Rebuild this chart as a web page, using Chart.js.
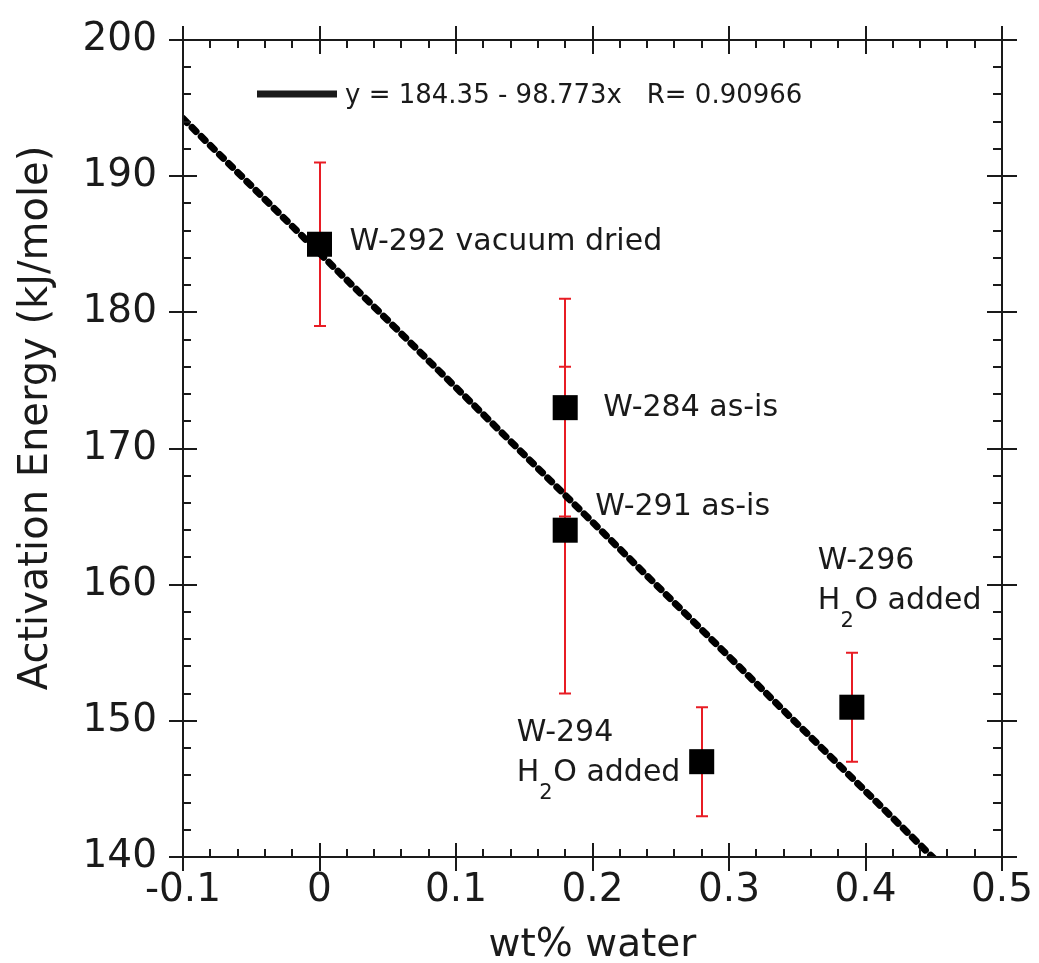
<!DOCTYPE html>
<html>
<head>
<meta charset="utf-8">
<script src="https://cdn.jsdelivr.net/npm/chart.js@4.4.0/dist/chart.umd.min.js"></script>
<style>
  html, body { margin: 0; padding: 0; background: #fff; }
</style>
</head>
<body>
<canvas id="energyChart" width="1039" height="963"></canvas>
<script>
// data
const samples = ['W-292 vacuum dried', 'W-284 as-is', 'W-291 as-is', 'W-294', 'W-296'];
const waterPct = [0, 0.18, 0.18, 0.28, 0.39];
const energy = [185, 173, 164, 147, 151];
const errLow = [179, 165, 152, 143, 147];
const errHigh = [191, 181, 176, 151, 155];
const fitX = [-0.1, 0.45];
const fitY = [194.23, 139.9];
const xTicks = [-0.1, 0, 0.1, 0.2, 0.3, 0.4, 0.5];
const yTicks = [140, 150, 160, 170, 180, 190, 200];
const fitLabel = 'y = 184.35 - 98.773x   R= 0.90966';

const FONT = '"DejaVu Sans", Verdana, sans-serif';
const INK = '#1a1a1a';

// label anchor offsets from each point (pixels)
const labelOffsets = [[30, 6], [38, 8], [30, -15], [-185, -21], [-34, -138]];

function drawH2O(ctx, x, y, size) {
  ctx.font = size + 'px ' + FONT;
  ctx.fillText('H', x, y);
  let w = ctx.measureText('H').width;
  ctx.font = Math.round(size * 0.7) + 'px ' + FONT;
  ctx.fillText('2', x + w, y + 18);
  w += 2;
  ctx.font = size + 'px ' + FONT;
  ctx.fillText('O added', x + w + 12, y);
}

function noPad(s) {
  s.paddingTop = 0; s.paddingBottom = 0;
  s.paddingLeft = 0; s.paddingRight = 0;
}

const framePlugin = {
  id: 'framePlugin',
  beforeDatasetsDraw(chart) {
    const {ctx, scales: {x, y}} = chart;
    ctx.save();
    ctx.strokeStyle = '#e81c24';
    ctx.lineWidth = 2;
    waterPct.forEach((w, i) => {
      const px = Math.round(x.getPixelForValue(w));
      const lo = y.getPixelForValue(errLow[i]);
      const hi = y.getPixelForValue(errHigh[i]);
      ctx.beginPath();
      ctx.moveTo(px, lo); ctx.lineTo(px, hi);
      ctx.moveTo(px - 6, lo); ctx.lineTo(px + 6, lo);
      ctx.moveTo(px - 6, hi); ctx.lineTo(px + 6, hi);
      ctx.stroke();
    });
    ctx.restore();
  },
  afterDraw(chart) {
    const {ctx, chartArea: a, scales: {x, y}} = chart;
    ctx.save();
    ctx.strokeStyle = INK;
    ctx.lineWidth = 2;
    ctx.strokeRect(a.left, a.top, a.right - a.left, a.bottom - a.top);

    ctx.beginPath();
    for (let k = 0; k <= 30; k++) {
      const px = Math.round(x.getPixelForValue(-0.1 + k * 0.02));
      if (k % 5 === 0) {
        ctx.moveTo(px, a.bottom - 14); ctx.lineTo(px, a.bottom + 14);
        ctx.moveTo(px, a.top - 14); ctx.lineTo(px, a.top + 14);
      } else {
        ctx.moveTo(px, a.bottom); ctx.lineTo(px, a.bottom - 8);
        ctx.moveTo(px, a.top); ctx.lineTo(px, a.top + 8);
      }
      const py = Math.round(y.getPixelForValue(140 + k * 2));
      if (k % 5 === 0) {
        ctx.moveTo(a.left - 14, py); ctx.lineTo(a.left + 14, py);
        ctx.moveTo(a.right - 15, py); ctx.lineTo(a.right + 15, py);
      } else {
        ctx.moveTo(a.left, py); ctx.lineTo(a.left + 8, py);
        ctx.moveTo(a.right, py); ctx.lineTo(a.right - 9, py);
      }
    }
    ctx.stroke();

    // axis titles
    ctx.fillStyle = INK;
    ctx.font = '39px ' + FONT;
    ctx.textAlign = 'center';
    ctx.textBaseline = 'alphabetic';
    ctx.fillText('wt% water', (a.left + a.right) / 2, 956);
    ctx.save();
    ctx.translate(47, 418);
    ctx.rotate(-Math.PI / 2);
    ctx.font = '40px ' + FONT;
    ctx.fillText('Activation Energy (kJ/mole)', 0, 0);
    ctx.restore();

    // fit legend
    ctx.lineWidth = 7;
    ctx.beginPath();
    ctx.moveTo(257, 94); ctx.lineTo(337, 94);
    ctx.stroke();
    ctx.textAlign = 'left';
    ctx.font = '26px ' + FONT;
    ctx.fillText(fitLabel, 345, 103);

    // sample labels
    samples.forEach((s, i) => {
      const px = x.getPixelForValue(waterPct[i]) + labelOffsets[i][0];
      const py = y.getPixelForValue(energy[i]) + labelOffsets[i][1];
      ctx.font = '30px ' + FONT;
      ctx.fillText(s, px, py);
      if (s === 'W-294' || s === 'W-296') drawH2O(ctx, px, py + 40, 30);
    });
    ctx.restore();
  }
};

new Chart(document.getElementById('energyChart'), {
  type: 'scatter',
  data: {
    datasets: [{
      type: 'line',
      label: 'fit',
      data: fitX.map((v, i) => ({x: v, y: fitY[i]})),
      borderColor: '#000',
      borderWidth: 7,
      borderDash: [5.5, 7.3],
      borderCapStyle: 'round',
      pointRadius: 0,
      fill: false,
      order: 0
    }, {
      label: 'samples',
      data: waterPct.map((v, i) => ({x: v, y: energy[i]})),
      pointStyle: 'rect',
      pointRadius: 17.7,
      pointHoverRadius: 17.7,
      backgroundColor: '#000',
      borderColor: '#000',
      borderWidth: 0,
      order: 1
    }]
  },
  options: {
    responsive: false,
    animation: false,
    layout: {padding: {top: 40, right: 37, left: 0, bottom: 0}},
    plugins: {legend: {display: false}, tooltip: {enabled: false}},
    scales: {
      x: {
        type: 'linear',
        min: -0.1, max: 0.5,
        afterFit: s => { s.height = 106; noPad(s); },
        afterBuildTicks: s => { s.ticks = xTicks.map(v => ({value: v})); },
        grid: {display: false, drawTicks: false},
        border: {display: false},
        ticks: {
          autoSkip: false, maxRotation: 0, padding: 10,
          color: INK, font: {family: FONT, size: 39},
          callback: v => String(+v.toFixed(1))
        }
      },
      y: {
        min: 140, max: 200,
        afterFit: s => { s.width = 183; noPad(s); },
        afterBuildTicks: s => { s.ticks = yTicks.map(v => ({value: v})); },
        grid: {display: false, drawTicks: false},
        border: {display: false},
        ticks: {
          padding: 26, color: INK, font: {family: FONT, size: 39},
          callback: v => String(v)
        }
      }
    }
  },
  plugins: [framePlugin]
});
</script>
</body>
</html>
